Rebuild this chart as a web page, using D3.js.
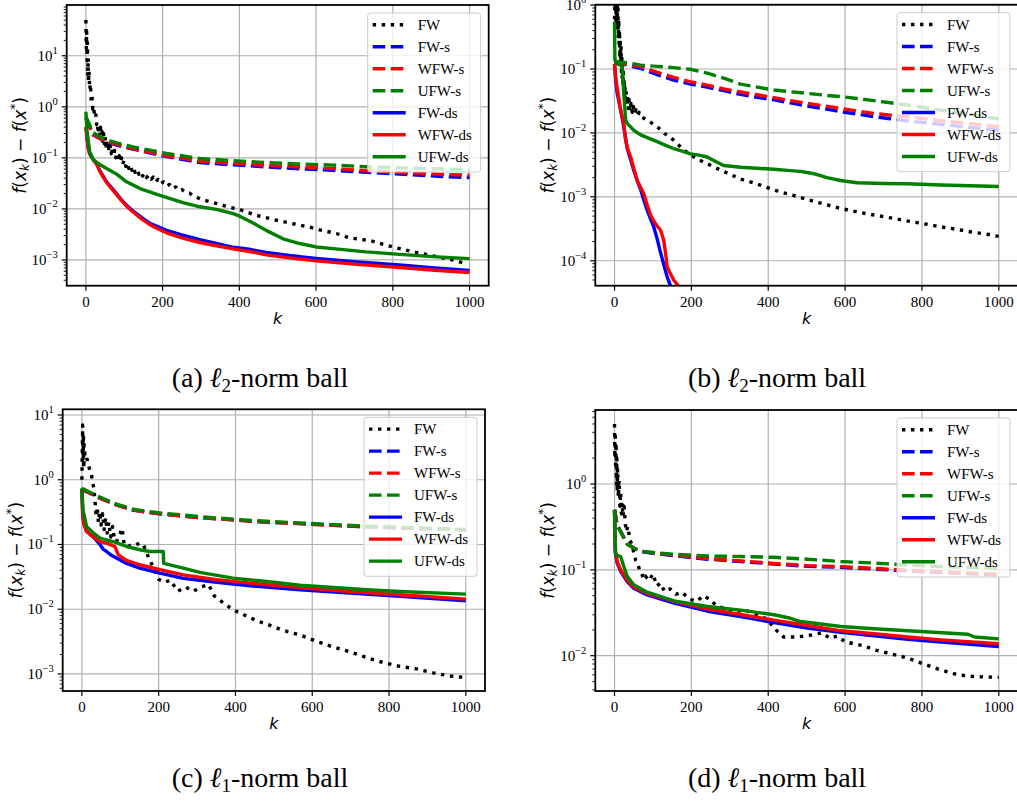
<!DOCTYPE html>
<meta charset="utf-8">
<script src="https://cdn.jsdelivr.net/npm/d3@7"></script>
<style>
body { margin: 0; background: #fff; }
.tick-label { font-family: "Liberation Serif", "Times New Roman", serif; font-size: 15px; }
.axis-label { font-family: "DejaVu Sans", sans-serif; font-size: 17px; }
.legend-text { font-family: "Liberation Serif", "Times New Roman", serif; font-size: 15px; }
.caption { font-family: "Liberation Serif", "Times New Roman", serif; font-size: 28px; }
.grid line { stroke: #b0b0b0; stroke-width: 1.2; }
</style>
<body>
<div id="chart"></div>
<script>
// ---------------- data: [k, f(x_k) - f(x*)] ----------------
// (a) l2-norm ball
const a_FW = [[0,50],[1,14],[2,30],[3,8],[4,18],[5,4],[6,9],[7,3],[8,5],[10,2.2],[12,2.8],[14,1.3],[16,1.6],[18,0.9],[20,1.0],[23,0.62],[26,0.7],[28,0.45],[30,0.5],[32,0.3],[34,0.45],[36,0.27],[38,0.4],[40,0.24],[42,0.33],[44,0.21],[46,0.3],[48,0.19],[50,0.26],[52,0.17],[54,0.23],[56,0.15],[58,0.2],[60,0.14],[63,0.18],[66,0.12],[69,0.16],[72,0.11],[75,0.14],[78,0.1],[81,0.125],[84,0.09],[87,0.11],[90,0.082],[93,0.1],[96,0.075],[100,0.09],[104,0.068],[108,0.08],[112,0.062],[116,0.072],[120,0.057],[124,0.066],[128,0.052],[133,0.06],[138,0.048],[143,0.054],[148,0.044],[153,0.05],[158,0.041],[164,0.046],[170,0.038],[176,0.042],[182,0.034],[188,0.038],[195,0.031],[202,0.034],[210,0.028],[218,0.03],[226,0.025],[234,0.027],[242,0.023],[250,0.024],[260,0.021],[270,0.0205],[280,0.018],[300,0.0155],[340,0.0128],[370,0.011],[401,0.0097],[444,0.0075],[497,0.006],[531,0.0053],[583,0.0044],[609,0.0039],[653,0.0033],[688,0.0027],[740,0.0024],[800,0.0018],[844,0.0015],[905,0.0012],[957,0.001],[991,0.00085]];
const a_FWs = [[0,0.6],[19,0.28],[50,0.21],[80,0.177],[123,0.148],[210,0.106],[297,0.081],[384,0.073],[470,0.0666],[557,0.061],[644,0.057],[731,0.052],[818,0.048],[910,0.044],[1000,0.041]];
const a_WFWs = [[0,0.6],[19,0.285],[50,0.215],[80,0.183],[123,0.152],[210,0.11],[297,0.086],[384,0.078],[470,0.0718],[557,0.066],[644,0.0618],[731,0.056],[818,0.0516],[910,0.048],[1000,0.0457]];
const a_UFWs = [[0,0.65],[19,0.31],[50,0.23],[80,0.197],[123,0.164],[210,0.122],[297,0.097],[384,0.088],[470,0.081],[557,0.076],[644,0.072],[731,0.067],[818,0.0636],[910,0.061],[1000,0.059]];
const a_FWds = [[0,0.4],[3,0.25],[6,0.16],[10,0.12],[20,0.09],[28,0.077],[36,0.057],[45,0.044],[54,0.034],[65,0.027],[80,0.02],[93,0.015],[106,0.0118],[123,0.0091],[145,0.0068],[167,0.0052],[190,0.0044],[210,0.0038],[250,0.0031],[297,0.0025],[340,0.0021],[384,0.00177],[430,0.0016],[470,0.0014],[530,0.00122],[600,0.00107],[700,0.00092],[818,0.0008],[910,0.0007],[1000,0.00062]];
const a_WFWds = [[0,0.4],[3,0.25],[6,0.16],[10,0.12],[20,0.09],[28,0.075],[36,0.055],[45,0.042],[54,0.033],[65,0.026],[80,0.019],[93,0.0145],[106,0.0113],[123,0.0087],[145,0.0064],[167,0.0049],[190,0.004],[210,0.0034],[250,0.0027],[297,0.0022],[340,0.0019],[384,0.00165],[430,0.00145],[470,0.00126],[530,0.0011],[600,0.00096],[700,0.00083],[818,0.00071],[910,0.00063],[1000,0.00057]];
const a_UFWds = [[0,0.8],[3,0.34],[10,0.13],[19,0.093],[36,0.074],[62,0.057],[80,0.048],[106,0.034],[141,0.025],[193,0.0185],[253,0.0133],[297,0.011],[340,0.0098],[384,0.0081],[401,0.0072],[436,0.0053],[470,0.0038],[514,0.0026],[557,0.0021],[600,0.0018],[644,0.00167],[731,0.00144],[818,0.00129],[904,0.00116],[1000,0.00106]];

// (b) l2-norm ball
const b_FW = [[0,0.6],[1,2],[2,0.8],[3,1.5],[4,0.5],[5,2],[6,0.7],[7,1.3],[8,0.4],[9,1.0],[10,0.3],[11,0.6],[12,0.22],[13,0.4],[14,0.15],[15,0.3],[16,0.12],[17,0.22],[18,0.09],[19,0.16],[20,0.07],[21,0.12],[22,0.055],[23,0.09],[24,0.045],[25,0.07],[26,0.036],[27,0.055],[28,0.03],[30,0.045],[32,0.026],[34,0.038],[36,0.024],[38,0.033],[40,0.022],[43,0.029],[46,0.021],[49,0.026],[52,0.02],[56,0.023],[60,0.019],[64,0.021],[68,0.018],[85,0.016],[111,0.0125],[130,0.0098],[154,0.0077],[175,0.0058],[198,0.0045],[220,0.0038],[241,0.0033],[284,0.0025],[328,0.0019],[370,0.0016],[415,0.00128],[458,0.00108],[501,0.00091],[545,0.00077],[588,0.00066],[631,0.00058],[675,0.00052],[718,0.00047],[761,0.00042],[805,0.00038],[848,0.00034],[891,0.00031],[935,0.000278],[970,0.00026],[1000,0.00024]];
const b_FWs = [[0,0.13],[33,0.115],[68,0.102],[110,0.082],[154,0.067],[198,0.058],[241,0.052],[284,0.046],[328,0.04],[371,0.036],[415,0.033],[458,0.0295],[501,0.0264],[545,0.024],[588,0.0215],[631,0.0197],[675,0.018],[718,0.0167],[761,0.0155],[805,0.0145],[848,0.0136],[925,0.0122],[1000,0.011]];
const b_WFWs = [[0,0.13],[33,0.118],[68,0.109],[110,0.089],[154,0.074],[198,0.063],[241,0.056],[284,0.049],[328,0.0437],[371,0.0395],[415,0.0356],[458,0.032],[501,0.029],[545,0.0265],[588,0.0242],[631,0.022],[675,0.0202],[718,0.019],[761,0.018],[805,0.0167],[848,0.0155],[925,0.014],[1000,0.0125]];
const b_UFWs = [[0,0.13],[33,0.125],[68,0.115],[111,0.11],[154,0.105],[198,0.099],[241,0.086],[284,0.072],[328,0.058],[371,0.052],[415,0.047],[458,0.044],[501,0.0416],[545,0.039],[588,0.037],[631,0.0345],[675,0.032],[718,0.0296],[761,0.0273],[805,0.025],[848,0.0228],[925,0.0195],[1000,0.0165]];
const b_FWds = [[0,0.12],[3,0.067],[7,0.042],[16,0.0228],[24,0.0125],[33,0.0057],[42,0.0038],[50,0.0026],[59,0.0018],[68,0.0013],[76,0.0009],[85,0.00062],[94,0.00045],[102,0.00034],[111,0.00022],[120,0.000132],[128,0.000088],[137,0.000056],[146,0.00004],[155,0.000028],[170,0.000016]];
const b_WFWds = [[0,0.12],[3,0.075],[7,0.05],[16,0.0228],[20,0.018],[24,0.0141],[29,0.0077],[35,0.0055],[42,0.0042],[50,0.0028],[59,0.0018],[68,0.0014],[76,0.00113],[85,0.00075],[94,0.00052],[102,0.00042],[111,0.00035],[120,0.0003],[128,0.00021],[133,0.00013],[137,0.00008],[146,0.000062],[154,0.00005],[167,0.00004],[180,0.000025]];
const b_UFWds = [[0,0.55],[1,0.14],[7,0.12],[16,0.115],[20,0.108],[24,0.042],[29,0.016],[33,0.0141],[50,0.011],[68,0.0093],[90,0.0082],[111,0.0073],[133,0.0064],[154,0.0057],[176,0.0052],[198,0.0047],[220,0.0045],[241,0.0042],[262,0.0036],[284,0.0031],[328,0.0029],[371,0.0028],[415,0.0027],[450,0.0026],[484,0.0025],[519,0.0023],[553,0.002],[588,0.0018],[631,0.00166],[700,0.00162],[761,0.0016],[850,0.00153],[1000,0.00145]];

// (c) l1-norm ball
const c_FW = [[0,1.0],[2,7],[3,2],[4,5],[5,1.5],[6,3.5],[8,2.5],[10,2.6],[14,2.0],[18,1.6],[21,1.4],[25,1.2],[28,0.9],[31,0.74],[34,0.5],[37,0.27],[40,0.38],[43,0.22],[46,0.32],[50,0.2],[54,0.3],[58,0.17],[62,0.26],[66,0.15],[70,0.22],[75,0.13],[80,0.19],[85,0.12],[90,0.11],[95,0.13],[100,0.15],[105,0.178],[110,0.1],[120,0.092],[130,0.1],[140,0.098],[150,0.105],[160,0.1],[175,0.06],[190,0.04],[200,0.029],[215,0.026],[230,0.028],[250,0.019],[270,0.022],[290,0.019],[310,0.022],[330,0.024],[345,0.016],[365,0.013],[394,0.0098],[430,0.0078],[460,0.0065],[481,0.0059],[520,0.0048],[568,0.004],[611,0.0032],[655,0.0026],[698,0.0022],[741,0.0018],[785,0.0015],[828,0.00131],[872,0.0012],[915,0.00104],[960,0.00093],[1000,0.00088]];
const c_FWs = [[0,0.71],[21,0.62],[47,0.52],[90,0.41],[134,0.34],[177,0.31],[220,0.29],[307,0.26],[394,0.24],[481,0.22],[568,0.21],[655,0.197],[741,0.187],[828,0.18],[915,0.174],[1000,0.168]];
const c_WFWs = [[0,0.71],[21,0.62],[47,0.52],[90,0.41],[134,0.34],[177,0.31],[220,0.29],[307,0.26],[394,0.24],[481,0.222],[568,0.21],[655,0.198],[741,0.188],[828,0.18],[915,0.174],[1000,0.168]];
const c_UFWs = [[0,0.74],[21,0.64],[47,0.54],[90,0.42],[134,0.35],[177,0.32],[220,0.3],[307,0.27],[394,0.245],[481,0.228],[568,0.215],[655,0.203],[741,0.192],[828,0.184],[915,0.177],[1000,0.171]];
const c_FWds = [[0,0.71],[2,0.3],[5,0.21],[12,0.16],[30,0.13],[47,0.1],[55,0.085],[64,0.078],[77,0.068],[90,0.062],[116,0.051],[151,0.043],[203,0.036],[264,0.03],[351,0.026],[438,0.023],[568,0.02],[698,0.0177],[828,0.0158],[1000,0.0135]];
const c_WFWds = [[0,0.71],[2,0.3],[5,0.21],[12,0.16],[30,0.13],[47,0.111],[64,0.105],[86,0.093],[95,0.069],[116,0.0566],[151,0.0486],[203,0.041],[264,0.034],[351,0.0285],[438,0.0253],[568,0.0217],[698,0.0188],[828,0.0167],[1000,0.0143]];
const c_UFWds = [[0,0.74],[3,0.34],[12,0.19],[30,0.15],[47,0.125],[90,0.107],[116,0.093],[151,0.083],[177,0.078],[212,0.078],[213,0.051],[264,0.043],[307,0.037],[394,0.0302],[481,0.0268],[568,0.0235],[655,0.0217],[741,0.02],[828,0.0188],[1000,0.0171]];

// (d) l1-norm ball
const d_FW = [[0,5],[1,2],[2,4],[3,1.5],[4,3],[5,1],[6,2],[7,0.8],[8,1.5],[10,0.7],[12,1.1],[14,0.55],[16,0.8],[18,0.45],[20,0.6],[22,0.42],[25,0.55],[28,0.35],[30,0.28],[35,0.32],[40,0.22],[45,0.2],[50,0.16],[55,0.13],[60,0.12],[65,0.1],[70,0.095],[75,0.078],[80,0.085],[90,0.075],[100,0.09],[110,0.065],[120,0.07],[130,0.056],[145,0.06],[160,0.052],[175,0.055],[190,0.048],[200,0.045],[215,0.043],[230,0.05],[250,0.045],[265,0.038],[290,0.035],[320,0.033],[340,0.034],[370,0.03],[395,0.027],[420,0.02],[440,0.0165],[470,0.0165],[500,0.017],[540,0.0185],[560,0.016],[580,0.017],[600,0.0145],[650,0.013],[676,0.0117],[720,0.0105],[763,0.0094],[805,0.008],[850,0.0068],[893,0.006],[937,0.0057],[1000,0.0056]];
const d_FWs = [[0,0.5],[7,0.33],[16,0.28],[33,0.2],[50,0.18],[68,0.163],[111,0.154],[155,0.146],[242,0.133],[328,0.125],[415,0.117],[502,0.11],[589,0.107],[676,0.102],[763,0.097],[850,0.093],[1000,0.087]];
const d_WFWs = [[0,0.5],[7,0.33],[16,0.28],[33,0.2],[50,0.18],[68,0.165],[111,0.156],[155,0.148],[242,0.135],[328,0.127],[415,0.119],[502,0.112],[589,0.109],[676,0.104],[763,0.099],[850,0.095],[1000,0.089]];
const d_UFWs = [[0,0.5],[7,0.33],[16,0.28],[33,0.2],[50,0.18],[68,0.165],[111,0.157],[155,0.152],[242,0.145],[328,0.143],[415,0.14],[502,0.133],[589,0.125],[676,0.12],[763,0.114],[850,0.109],[1000,0.105]];
const d_FWds = [[0,0.5],[2,0.16],[7,0.12],[16,0.096],[33,0.073],[50,0.061],[85,0.051],[155,0.041],[242,0.033],[328,0.0286],[415,0.0243],[502,0.021],[589,0.0187],[676,0.0171],[763,0.0155],[850,0.0144],[1000,0.0128]];
const d_WFWds = [[0,0.5],[2,0.17],[7,0.125],[16,0.1],[33,0.076],[50,0.063],[85,0.053],[155,0.043],[242,0.035],[328,0.0302],[415,0.026],[502,0.0225],[589,0.0195],[676,0.018],[763,0.0165],[850,0.0153],[1000,0.0138]];
const d_UFWds = [[0,0.5],[3,0.15],[16,0.143],[24,0.11],[33,0.084],[50,0.067],[85,0.055],[155,0.0436],[242,0.0374],[328,0.034],[415,0.03],[458,0.0273],[484,0.025],[589,0.0219],[676,0.0206],[763,0.0195],[920,0.0178],[937,0.0165],[1000,0.0157]];

const seriesNames = ["FW", "FW-s", "WFW-s", "UFW-s", "FW-ds", "WFW-ds", "UFW-ds"];
const xTicks = [0, 200, 400, 600, 800, 1000];
const captionLetters = ["a", "b", "c", "d"];
const captionNorms = ["2", "2", "1", "1"];

// ---------------- styles / layout ----------------
const colors = ["#000000", "#0000ff", "#ff0000", "#008000", "#0000ff", "#ff0000", "#008000"];
const lw = 3.4;
const dashes = [(lw) + "," + (lw * 1.65), (lw * 3.7) + "," + (lw * 1.6), (lw * 3.7) + "," + (lw * 1.6), (lw * 3.7) + "," + (lw * 1.6), null, null, null];

const panels = [
  {data: [a_FW, a_FWs, a_WFWs, a_UFWs, a_FWds, a_WFWds, a_UFWds], left: 66.7, right: 488.7, top: 5, bottom: 285.7, yExp: [-3.504, 1.994], capX: 260, capY: 387},
  {data: [b_FW, b_FWs, b_WFWs, b_UFWs, b_FWds, b_WFWds, b_UFWds], left: 595.3, right: 1018, top: 4.7, bottom: 285.7, yExp: [-4.39, 0.006], capX: 777, capY: 387},
  {data: [c_FW, c_FWs, c_WFWs, c_UFWs, c_FWds, c_WFWds, c_UFWds], left: 62.7, right: 485, top: 409.3, bottom: 691, yExp: [-3.263, 1.088], capX: 260, capY: 787},
  {data: [d_FW, d_FWs, d_WFWs, d_UFWs, d_FWds, d_WFWds, d_UFWds], left: 595.3, right: 1018, top: 410, bottom: 691, yExp: [-2.411, 0.862], capX: 777, capY: 787}
];

const svg = d3.select("#chart").append("svg")
  .attr("width", 1017)
  .attr("height", 801);

panels.forEach(function(p, pi) {
  const x = d3.scaleLinear().domain([-50, 1050]).range([p.left, p.right]);
  const y = d3.scaleLog().domain([Math.pow(10, p.yExp[0]), Math.pow(10, p.yExp[1])]).range([p.bottom, p.top]);
  const g = svg.append("g");

  const clipId = "clip" + pi;
  svg.append("clipPath").attr("id", clipId)
    .append("rect").attr("x", p.left).attr("y", p.top)
    .attr("width", p.right - p.left).attr("height", p.bottom - p.top);

  // major decades and minor ticks
  const majors = [];
  const minors = [];
  for (let e = Math.floor(p.yExp[0]); e <= Math.ceil(p.yExp[1]); e++) {
    if (e >= p.yExp[0] - 1e-9 && e <= p.yExp[1] + 1e-9) majors.push(e);
    for (let m = 2; m <= 9; m++) {
      const le = e + Math.log10(m);
      if (le >= p.yExp[0] && le <= p.yExp[1]) minors.push(m * Math.pow(10, e));
    }
  }

  // grid
  const grid = g.append("g").attr("class", "grid");
  grid.selectAll(".gx").data(xTicks).enter().append("line")
    .attr("x1", d => x(d)).attr("x2", d => x(d))
    .attr("y1", p.top).attr("y2", p.bottom);
  grid.selectAll(".gy").data(majors).enter().append("line")
    .attr("x1", p.left).attr("x2", p.right)
    .attr("y1", d => y(Math.pow(10, d))).attr("y2", d => y(Math.pow(10, d)));

  // lines
  const line = d3.line().x(d => x(d[0])).y(d => y(d[1]));
  const lines = g.append("g").attr("clip-path", "url(#" + clipId + ")");
  p.data.forEach(function(s, si) {
    lines.append("path")
      .attr("d", line(s))
      .attr("fill", "none")
      .attr("stroke", colors[si])
      .attr("stroke-width", lw)
      .attr("stroke-dasharray", dashes[si])
      .attr("stroke-linejoin", "round");
  });

  // frame
  g.append("rect")
    .attr("x", p.left).attr("y", p.top)
    .attr("width", p.right - p.left).attr("height", p.bottom - p.top)
    .attr("fill", "none").attr("stroke", "#000").attr("stroke-width", 1.8);

  // x ticks
  g.selectAll(".xt").data(xTicks).enter().append("line")
    .attr("x1", d => x(d)).attr("x2", d => x(d))
    .attr("y1", p.bottom).attr("y2", p.bottom + 5)
    .attr("stroke", "#000").attr("stroke-width", 1.2);
  g.selectAll(".xl").data(xTicks).enter().append("text")
    .attr("class", "tick-label")
    .attr("x", d => x(d)).attr("y", p.bottom + 21)
    .attr("text-anchor", "middle")
    .text(d => d);

  // y ticks
  g.selectAll(".yt").data(majors).enter().append("line")
    .attr("x1", p.left - 5).attr("x2", p.left)
    .attr("y1", d => y(Math.pow(10, d))).attr("y2", d => y(Math.pow(10, d)))
    .attr("stroke", "#000").attr("stroke-width", 1.2);
  g.selectAll(".ym").data(minors).enter().append("line")
    .attr("x1", p.left - 3).attr("x2", p.left)
    .attr("y1", d => y(d)).attr("y2", d => y(d))
    .attr("stroke", "#000").attr("stroke-width", 0.9);
  const yl = g.selectAll(".yl").data(majors).enter().append("text")
    .attr("class", "tick-label")
    .attr("x", p.left - 9).attr("y", d => y(Math.pow(10, d)) + 5)
    .attr("text-anchor", "end");
  yl.append("tspan").text("10");
  yl.append("tspan").attr("dy", -7).style("font-size", "10.5px")
    .text(d => d < 0 ? "\u2212" + (-d) : String(d));

  // axis labels
  g.append("text").attr("class", "axis-label")
    .attr("x", (p.left + p.right) / 2).attr("y", p.bottom + 38)
    .attr("text-anchor", "middle").style("font-style", "italic").style("font-size", "16px")
    .text("k");

  const ylab = g.append("text").attr("class", "axis-label")
    .attr("text-anchor", "middle")
    .attr("transform", "translate(" + (p.left - 47) + "," + ((p.top + p.bottom) / 2) + ") rotate(-90)")
    .attr("dy", "0.35em");
  ylab.append("tspan").style("font-style", "italic").text("f");
  ylab.append("tspan").text("(");
  ylab.append("tspan").style("font-style", "italic").text("x");
  ylab.append("tspan").style("font-style", "italic").style("font-size", "12px").attr("dy", 3).text("k");
  ylab.append("tspan").attr("dy", -3).text(") \u2212 ");
  ylab.append("tspan").style("font-style", "italic").text("f");
  ylab.append("tspan").text("(");
  ylab.append("tspan").style("font-style", "italic").text("x");
  ylab.append("tspan").style("font-size", "12px").attr("dy", -7).text("*");
  ylab.append("tspan").attr("dy", 7).text(")");

  // legend
  const bw = 113, bh = 159;
  const bx = p.right - 8 - bw, by = p.top + 8;
  const lg = g.append("g");
  lg.append("rect")
    .attr("x", bx).attr("y", by).attr("width", bw).attr("height", bh)
    .attr("rx", 3)
    .attr("fill", "#fff").attr("fill-opacity", 0.8)
    .attr("stroke", "#cccccc").attr("stroke-width", 1);
  seriesNames.forEach(function(name, si) {
    const ly = by + 11.8 + si * 22;
    lg.append("line")
      .attr("x1", bx + 5).attr("x2", bx + 38)
      .attr("y1", ly).attr("y2", ly)
      .attr("stroke", colors[si]).attr("stroke-width", lw)
      .attr("stroke-dasharray", dashes[si]);
    lg.append("text").attr("class", "legend-text")
      .attr("x", bx + 50).attr("y", ly + 5)
      .text(name);
  });

  // caption
  const cap = svg.append("text").attr("class", "caption")
    .attr("x", p.capX).attr("y", p.capY)
    .attr("text-anchor", "middle");
  cap.append("tspan").text("(" + captionLetters[pi] + ") ");
  cap.append("tspan").style("font-style", "italic").text("\u2113");
  cap.append("tspan").style("font-size", "19px").attr("dy", 5).text(captionNorms[pi]);
  cap.append("tspan").attr("dy", -5).text("-norm ball");
});
</script>
</body>
